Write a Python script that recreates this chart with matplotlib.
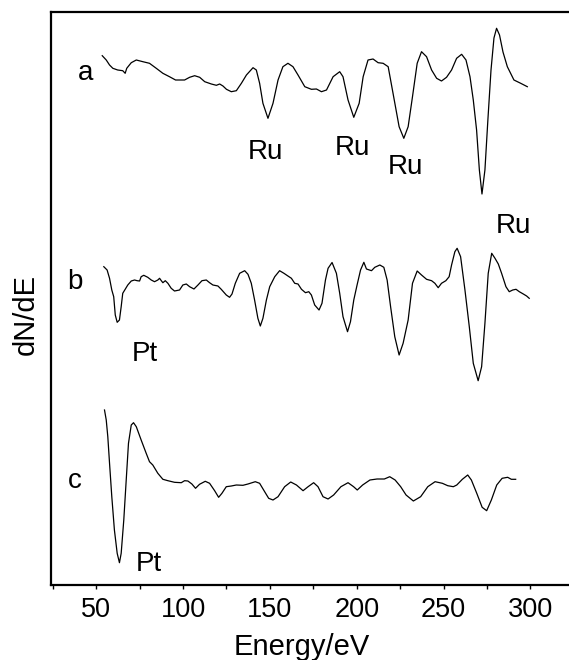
import numpy as np
import matplotlib
matplotlib.use("Agg")
import matplotlib.pyplot as plt
from matplotlib.ticker import MultipleLocator

plt.rcParams["font.family"] = ["Liberation Sans", "DejaVu Sans"]

# spectrum a (Ru)
energy_a = [53.5, 55.8, 57.7, 59.6, 62.4, 65.3, 66.7, 67.6, 70.2, 73.1, 76.9, 80.7,
            84.6, 88.4, 92.2, 95.7, 100.9, 103.8, 106.7, 109.6, 112.5, 116.3, 119.2,
            121.1, 123.0, 125.0, 127.8, 130.7, 133.6, 136.5, 140.3, 142.2, 144.1,
            146.0, 148.9, 151.8, 154.7, 157.5, 160.4, 163.3, 166.2, 170.1, 173.9,
            176.8, 179.7, 182.6, 186.4, 190.2, 192.1, 195.0, 198.3, 201.4, 203.7,
            206.5, 209.4, 212.3, 215.2, 218.1, 220.9, 224.4, 227.1, 229.6, 232.1,
            234.8, 237.3, 240.2, 243.1, 246.0, 248.8, 251.7, 254.6, 257.5, 260.4,
            262.9, 265.2, 267.1, 269.0, 270.6, 272.1, 273.8, 275.5, 277.3, 279.0,
            280.5, 282.2, 284.2, 286.7, 290.5, 294.4, 298.2]
dnde_a = [529.3, 525, 520, 516.7, 515, 514.3, 511.7, 516.7, 522.3, 525, 523.3, 521.7,
          516.7, 511.7, 508.3, 505, 505, 507.7, 509.3, 507.7, 503.3, 501, 499.7,
          501, 499, 495.7, 493.3, 494.3, 501.7, 510, 517.3, 515, 501.7,
          481.7, 466.7, 481.7, 505, 518.3, 521.7, 518.3, 510, 498.3, 495.7,
          496, 493.3, 495, 508.3, 513.3, 508.3, 485, 467.7, 481.7, 508.3,
          525, 526, 522.3, 521.7, 518.3, 491.7, 458.3, 446.7, 458.3, 488.3,
          521.7, 533.3, 528.3, 515, 506.7, 504, 507.7, 515, 526.7, 530.7,
          525, 508.3, 485, 455, 415, 391, 415, 465, 515, 547,
          556.7, 550, 533, 518.3, 505, 501.7, 498.3]

# spectrum b (Pt + Ru)
energy_b = [54.4, 56.3, 57.7, 59.0, 60.1, 61.0, 62.1, 63.4, 64.4, 65.3, 66.7, 68.2,
            70.2, 72.1, 73.6, 75.0, 75.9, 77.4, 79.7, 81.7, 83.6, 85.5, 86.5, 87.5,
            88.4, 89.8, 91.3, 93.2, 95.1, 98.0, 99.9, 101.9, 103.8, 106.3, 108.6,
            110.9, 113.4, 115.3, 117.2, 120.1, 122.0, 124.9, 126.8, 128.2, 130.1,
            132.6, 135.5, 137.4, 139.3, 141.2, 143.1, 144.5, 146.0, 148.0, 149.9,
            152.8, 155.6, 158.1, 160.4, 162.4, 164.3, 166.2, 168.2, 170.5, 172.4,
            173.9, 175.8, 178.3, 180.0, 182.0, 183.5, 185.8, 188.3, 190.2, 192.1,
            194.7, 196.4, 198.3, 200.2, 202.2, 204.1, 205.6, 208.5, 210.4, 213.3,
            215.6, 217.5, 219.5, 221.9, 224.4, 226.7, 229.6, 232.1, 234.8, 237.3,
            240.2, 243.1, 245.0, 246.9, 248.8, 251.3, 253.2, 254.6, 256.5, 257.8,
            259.8, 262.3, 264.8, 267.1, 269.9, 271.9, 273.8, 275.7, 277.7, 279.6,
            281.5, 283.4, 285.9, 287.8, 289.8, 291.7, 293.6, 295.9, 297.8, 299.3]
dnde_b = [318.3, 315, 306.7, 295, 288.3, 270, 262.7, 265, 278.3, 291.7, 295.7, 300,
          304, 305, 304.3, 304, 308.3, 309.7, 307.7, 305, 303.3, 305, 306.7, 304.3,
          302.3, 304.3, 301.7, 296.7, 294, 295, 300, 301, 298.3, 296, 300,
          304.3, 305, 302.3, 300, 299, 295.7, 290, 287.7, 291, 301.7,
          311.7, 314.3, 310.7, 301.7, 285, 266.7, 259, 266.7, 285, 298.3,
          308.3, 314.3, 311.7, 309, 306.7, 301.7, 301, 295.7, 292.3, 293.3,
          290, 280, 275, 281.7, 305, 316.7, 322.5, 311.7, 291.7, 268.3,
          253.3, 263.3, 285, 300, 315, 322.7, 316, 314.3, 317.7, 320,
          317.7, 305, 278.3, 248.3, 230, 241.7, 265, 301.7, 314, 310,
          305.7, 304.3, 301.7, 297.3, 301.7, 304.3, 308.3, 320, 333.3, 336.7,
          328.3, 295, 258.3, 221.7, 204.3, 218.3, 261.7, 311.7, 331.7, 326.7,
          321, 311.7, 298.3, 293.3, 295, 295.7, 293.3, 291, 289, 286.7]

# spectrum c (Pt)
energy_c = [54.8, 55.8, 56.7, 57.7, 59.0, 60.5, 62.1, 63.4, 64.4, 65.9, 67.3, 68.6,
            70.2, 71.5, 73.1, 75.9, 78.8, 80.7, 82.6, 85.5, 88.4, 91.3, 95.1, 99.0,
            100.9, 102.8, 105.1, 107.2, 109.5, 112.8, 115.3, 118.2, 120.5, 122.4,
            124.9, 127.8, 130.7, 134.5, 137.4, 141.6, 144.1, 147.0, 149.3, 151.8,
            154.7, 158.5, 162.0, 165.3, 169.1, 172.0, 175.2, 177.7, 180.6, 183.5,
            186.7, 190.9, 195.0, 198.2, 200.3, 203.4, 207.6, 211.7, 215.9, 219.0,
            222.1, 225.3, 228.4, 232.6, 236.8, 240.9, 245.1, 249.3, 252.4, 255.6,
            257.6, 260.8, 263.9, 266.0, 269.1, 272.2, 274.8, 277.5, 280.6, 283.7,
            286.9, 289.0, 291.5]
dnde_c = [175, 165, 148.3, 121.7, 88.3, 55, 31.7, 22.3, 31.7, 65, 105, 141.7,
          160, 162.3, 158.3, 145, 131.7, 123.3, 120, 111.7, 105.7, 104.3, 102.7, 102.3,
          104.3, 104, 101, 96.7, 100.7, 103.7, 101.7, 94.3, 87.7, 91.7,
          98.3, 99, 100, 99.7, 101, 103.3, 101.7, 93.3, 86.7, 85,
          88.3, 98.3, 103, 100, 94.3, 98.3, 102.3, 98.3, 88.3, 86,
          90, 98.3, 102.3, 98.3, 95, 100, 105, 106, 106, 108.3,
          105, 98.3, 90, 84, 88.3, 98.3, 103.3, 101.7, 99.3, 98.3,
          100, 105.7, 110, 105, 91.7, 77.7, 74.3, 85, 100, 106.7,
          107.7, 105.7, 105.7]

trace_labels = ["a", "b", "c"]
trace_label_pos = [(43.9, 505), (37.5, 295.7), (37.5, 96.7)]
peak_labels = ["Ru", "Ru", "Ru", "Ru", "Pt", "Pt"]
peak_label_pos = [(147.6, 425.7), (197.7, 430), (228.3, 411), (290, 352),
                  (78, 224.3), (80.5, 14.3)]

fig = plt.figure(figsize=(5.69, 6.6), dpi=100)
ax = fig.add_axes([51 / 569, 75 / 660, 518 / 569, 573 / 660])

for e, d in [(energy_a, dnde_a), (energy_b, dnde_b), (energy_c, dnde_c)]:
    ax.plot(e, d, color="black", lw=0.9)

for lab, (x, y) in zip(trace_labels, trace_label_pos):
    ax.text(x, y, lab, fontsize=20, ha="center", va="baseline")
for lab, (x, y) in zip(peak_labels, peak_label_pos):
    ax.text(x, y, lab, fontsize=20, ha="center", va="baseline")

ax.set_xlim(24, 322.2)
ax.set_ylim(0, 573)
ax.xaxis.set_major_locator(MultipleLocator(50))
ax.xaxis.set_minor_locator(MultipleLocator(25))
ax.set_yticks([])
ax.spines["right"].set_visible(False)
for s in ["left", "bottom", "top"]:
    ax.spines[s].set_linewidth(1.6)
ax.tick_params(axis="x", which="both", direction="out", length=3, width=1,
               labelsize=19.5, pad=5.5)

fig.text(302 / 569, 1 - 647 / 660, "Energy/eV", fontsize=21, ha="center", va="center")
fig.text(26 / 569, 1 - 314 / 660, "dN/dE", fontsize=21, rotation=90,
         ha="center", va="center")

fig.savefig("out.png", dpi=100)
